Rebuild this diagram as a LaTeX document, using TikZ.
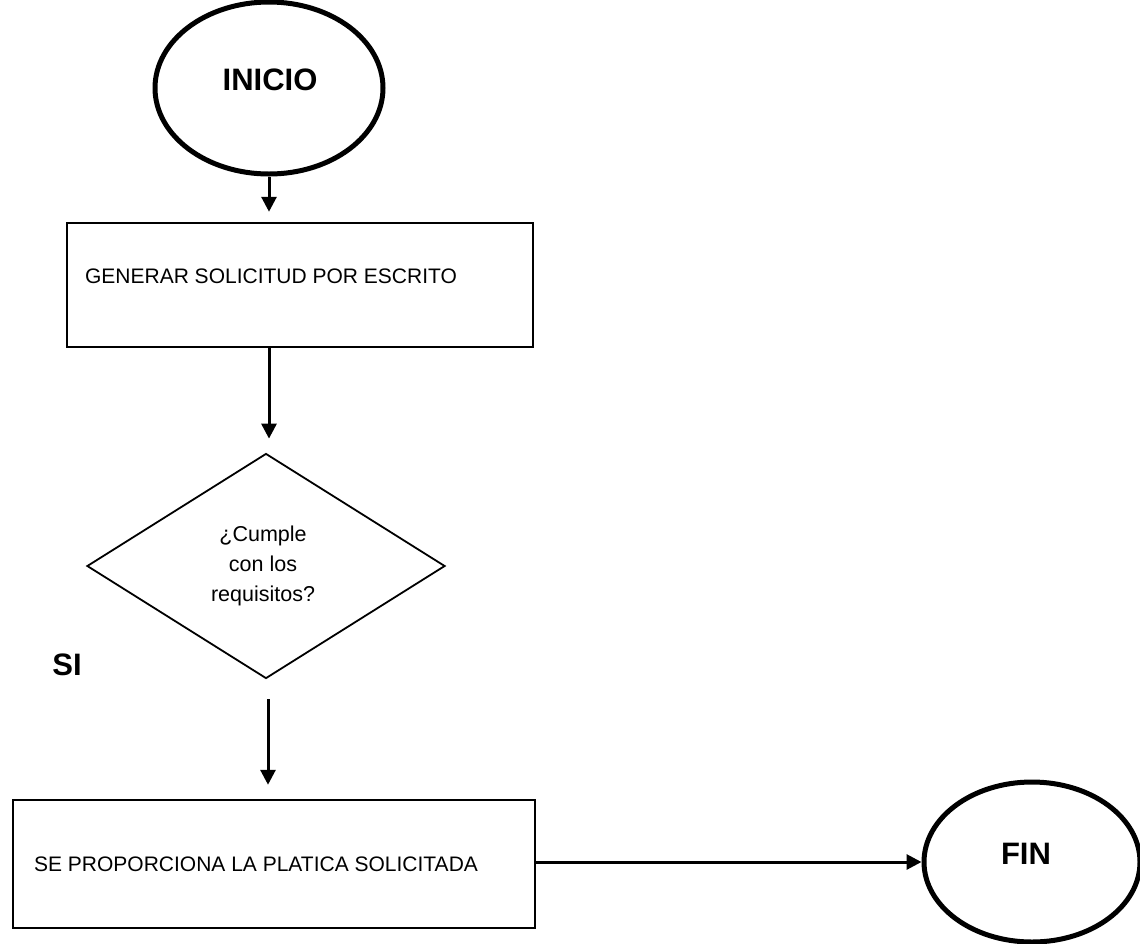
\documentclass[tikz,border=0pt]{standalone}
\usepackage{fontspec}
\setmainfont{Liberation Sans}
\usetikzlibrary{shapes.geometric,arrows.meta,calc}
\begin{document}
\begin{tikzpicture}[x=1pt,y=-1pt,
  term/.style={ellipse, draw, line width=5pt, inner sep=0pt},
  procbox/.style={rectangle, draw, line width=2.5pt, inner sep=0pt},
  decis/.style={diamond, draw, line width=1.8pt, inner sep=0pt},
  txt/.style={inner sep=0pt, font=\fontsize{21}{30}\selectfont},
  bigtxt/.style={inner sep=0pt, font=\fontsize{31}{36}\selectfont\bfseries},
  arr/.style={line width=3pt, -{Triangle[length=15pt,width=15pt]}}
]
\useasboundingbox[fill=white] (0,0) rectangle (1140,943);

\node[term, minimum width=228, minimum height=172] (inicio) at (269,88) {};
\node[bigtxt] (tinicio) at (270,80) {INICIO};

\node[procbox, minimum width=466, minimum height=124] (b1) at (300,285) {};
\node[txt] (tb1) at (271,276) {GENERAR SOLICITUD POR ESCRITO};

\node[decis, minimum width=358, minimum height=225] (d1) at (266,566) {};
\node[txt, align=center, font=\fontsize{21.5}{30}\selectfont] (td1) at (263,566) {¿Cumple\\con los\\requisitos?};

\node[bigtxt] (si) at (67,665) {SI};

\node[procbox, minimum width=522, minimum height=128] (b2) at (274,864) {};
\node[txt] (tb2) at (256,864) {SE PROPORCIONA LA PLATICA SOLICITADA};

\node[term, minimum width=216, minimum height=160] (fin) at (1032,862) {};
\node[bigtxt] (tfin) at (1026,854) {FIN};

\coordinate (a1e) at ($(inicio.south |- b1.north)+(0,-10)$);
\draw[arr] (inicio.south) -- (a1e);
\coordinate (a2s) at (inicio.south |- b1.south);
\coordinate (a2e) at ($(inicio.south |- d1.north)+(0,-14)$);
\draw[arr] (a2s) -- (a2e);
\coordinate (a3s) at ($(d1.south)+(2,20)$);
\coordinate (a3e) at ($(a3s |- b2.north)+(0,-14)$);
\draw[arr] (a3s) -- (a3e);
\draw[arr] (b2.east |- fin.west) -- (fin.west);
\end{tikzpicture}
\end{document}
